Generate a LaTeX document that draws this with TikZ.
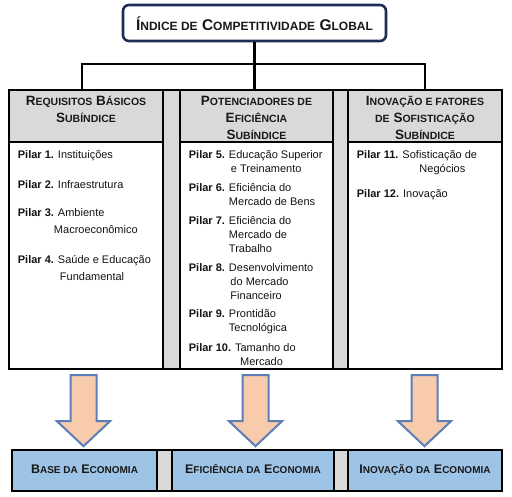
\documentclass[tikz,border=0pt]{standalone}
\usepackage{fontspec}
\setmainfont{Liberation Sans}
\definecolor{hgray}{HTML}{D9D9D9}
\definecolor{navy}{HTML}{1F2D55}
\definecolor{boxblue}{HTML}{9DC3E6}
\definecolor{peach}{HTML}{F8CBAD}
\definecolor{arrblue}{HTML}{5A7EB5}
\newcommand\tsm[1]{{\fontsize{12}{14}\selectfont #1}}
\newcommand\hsm[1]{{\fontsize{10.5}{12}\selectfont #1}}
\newcommand\bsm[1]{{\fontsize{10}{12}\selectfont #1}}
\newcommand\pl[1]{\textbf{Pilar #1.}}
\newenvironment{pitem}{\begin{tabular}[t]{@{}l@{\hspace{4pt}}l@{}}}{\end{tabular}}
\begin{document}
\begin{tikzpicture}[x=1pt,y=-1pt,
  frame/.style={draw=black, line width=2.4pt, fill=hgray, inner sep=0pt},
  hdr/.style={draw=black, line width=2.4pt, fill=hgray, inner sep=0pt},
  bodybox/.style={draw=black, line width=2.4pt, fill=white, inner sep=0pt},
  ecobox/.style={draw=black, line width=2.4pt, fill=boxblue, inner sep=0pt,
     font=\bfseries\fontsize{12.5}{14}\selectfont, text=black!90, text height=6pt, text depth=0pt},
  titlebox/.style={draw=navy, line width=2.6pt, rounded corners=6pt, fill=white,
     font=\bfseries\fontsize{15.5}{17}\selectfont, text=black!90, text height=16pt, text depth=0pt},
  hdrtxt/.style={anchor=base, inner sep=0pt, font=\bfseries\fontsize{13.5}{17}\selectfont, text=black!90},
  itm/.style={anchor=base west, inner sep=0pt, font=\fontsize{11}{14}\selectfont, text=black!92},
  itmw/.style={itm, font=\fontsize{11}{17}\selectfont},
  conn/.style={draw=black, line width=2.8pt},
  bigarr/.style={draw=arrblue, line width=2pt, fill=peach, line join=miter}
]
\useasboundingbox (0,0) rectangle (512,497);

% title
\node[titlebox, minimum width=263pt, minimum height=36pt] (t) at (254.5,23)
  {Í\tsm{NDICE DE} C\tsm{OMPETITIVIDADE} G\tsm{LOBAL}};

% table frame
\node[frame, minimum width=493pt, minimum height=279pt] (fr) at (255.5,229.5) {};

% headers
\node[hdr, minimum width=154pt, minimum height=52pt] (h1) at (86,116) {};
\node[hdr, minimum width=153pt, minimum height=52pt] (h2) at (256.5,116) {};
\node[hdr, minimum width=154pt, minimum height=52pt] (h3) at (425,116) {};

% bodies
\node[bodybox, minimum width=154pt, minimum height=227pt] (b1) at (86,255.5) {};
\node[bodybox, minimum width=153pt, minimum height=227pt] (b2) at (256.5,255.5) {};
\node[bodybox, minimum width=154pt, minimum height=227pt] (b3) at (425,255.5) {};

% header texts
\node[hdrtxt] (ht1) at (86,105.5) {\begin{tabular}[t]{@{}c@{}}R\hsm{EQUISITOS} B\hsm{ÁSICOS}\\ S\hsm{UBÍNDICE}\end{tabular}};
\node[hdrtxt] (ht2) at (256.5,105.5) {\begin{tabular}[t]{@{}c@{}}P\hsm{OTENCIADORES DE}\\ E\hsm{FICIÊNCIA}\\ S\hsm{UBÍNDICE}\end{tabular}};
\node[hdrtxt] (ht3) at (425,105.5) {\begin{tabular}[t]{@{}c@{}}I\hsm{NOVAÇÃO E FATORES}\\ \hsm{DE} S\hsm{OFISTICAÇÃO}\\ S\hsm{UBÍNDICE}\end{tabular}};

% connectors
\coordinate (bar) at (0,64);
\draw[conn] (t.south) -- (t.south |- h2.north);
\draw[conn] ([xshift=-4pt]h1.north) -- ([xshift=-4pt]h1.north |- bar) -- (h3.north |- bar) -- (h3.north);

% column 1 items
\node[itmw] (p1) at (17.7,159) {\begin{pitem}\pl{1} & Instituições\end{pitem}};
\node[itmw] (p2) at (17.7,188.5) {\begin{pitem}\pl{2} & Infraestrutura\end{pitem}};
\node[itmw] (p3) at (17.7,217) {\begin{pitem}\pl{3} & Ambiente\\ & \hspace*{-4pt}Macroeconômico\end{pitem}};
\node[itmw] (p4) at (17.7,263.5) {\begin{pitem}\pl{4} & Saúde e Educação\\ & \hspace*{2pt}Fundamental\end{pitem}};

% column 2 items
\node[itm] (p5) at (188.7,158.5) {\begin{pitem}\pl{5} & Educação Superior\\ & \hspace*{2pt}e Treinamento\end{pitem}};
\node[itm] (p6) at (188.7,192) {\begin{pitem}\pl{6} & Eficiência do\\ & Mercado de Bens\end{pitem}};
\node[itm] (p7) at (188.7,225) {\begin{pitem}\pl{7} & Eficiência do\\ & Mercado de\\ & Trabalho\end{pitem}};
\node[itm] (p8) at (188.7,271.5) {\begin{pitem}\pl{8} & Desenvolvimento\\ & \hspace*{1.5pt}do Mercado\\ & \hspace*{1.5pt}Financeiro\end{pitem}};
\node[itm] (p9) at (188.7,318) {\begin{pitem}\pl{9} & Prontidão\\ & Tecnológica\end{pitem}};
\node[itm] (p10) at (188.7,351.5) {\begin{pitem}\pl{10} & Tamanho do\\ & \hspace*{5pt}Mercado\end{pitem}};

% column 3 items
\node[itm] (p11) at (356.7,158.5) {\begin{pitem}\pl{11} & Sofisticação de\\ & \hspace*{17pt}Negócios\end{pitem}};
\node[itm] (p12) at (356.7,197.5) {\begin{pitem}\pl{12} & Inovação\end{pitem}};

% bottom row
\node[frame, minimum width=490pt, minimum height=41pt] (fr2) at (257,470.5) {};
\node[ecobox, minimum width=145pt, minimum height=41pt] (e1) at (84.5,470.5) {B\bsm{ASE DA} E\bsm{CONOMIA}};
\node[ecobox, minimum width=162pt, minimum height=41pt] (e2) at (253,470.5) {E\bsm{FICIÊNCIA DA} E\bsm{CONOMIA}};
\node[ecobox, minimum width=154pt, minimum height=41pt] (e3) at (425,470.5) {I\bsm{NOVAÇÃO DA} E\bsm{CONOMIA}};

% block arrows
\draw[bigarr] ([xshift=-2.5pt,yshift=-5pt]b1.south) -- ++(-13,0) -- ++(0,46) -- ++(-13.5,0) -- ++(26.5,25) -- ++(26.5,-25) -- ++(-13.5,0) -- ++(0,-46) -- cycle;
\draw[bigarr] ([xshift=-1pt,yshift=-5pt]b2.south) -- ++(-13,0) -- ++(0,46) -- ++(-13.5,0) -- ++(26.5,25) -- ++(26.5,-25) -- ++(-13.5,0) -- ++(0,-46) -- cycle;
\draw[bigarr] ([xshift=-0.5pt,yshift=-5pt]b3.south) -- ++(-13,0) -- ++(0,46) -- ++(-13.5,0) -- ++(26.5,25) -- ++(26.5,-25) -- ++(-13.5,0) -- ++(0,-46) -- cycle;
\end{tikzpicture}
\end{document}
